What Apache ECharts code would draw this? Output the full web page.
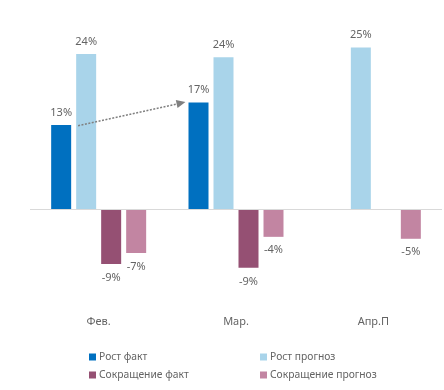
<!DOCTYPE html>
<html><head><meta charset="utf-8">
<script src="https://cdn.jsdelivr.net/npm/echarts@6/dist/echarts.min.js"></script>
<style>html,body{margin:0;padding:0;background:#fff}#c{width:444px;height:390px}</style>
</head><body><div id="c"></div>
<script>
const categories = ['Фев.', 'Мар.', 'Апр.П'];
const seriesNames = ['Рост факт', 'Рост прогноз', 'Сокращение факт', 'Сокращение прогноз'];
const growthFact = [13, 16.5, null];
const growthForecast = [24, 23.5, 25];
const cutFact = [-8.5, -9.1, null];
const cutForecast = [-6.8, -4.3, -4.6];
// arrow endpoints in (category-index space, percent)
const arrowStart = [0.35, 12.9];
const arrowEnd = [1.1, 16.4];

const colors = ['#0070C0', '#A9D4EA', '#955073', '#C285A2'];
const font = 'Noto Sans';
const labelColor = '#646464';

function fmt(p) {
  const v = p.value;
  if (v == null) return '';
  const r = Math.sign(v) * Math.round(Math.abs(v));
  return r + '%';
}
function barSeries(name, data, color) {
  return {
    name, type: 'bar', data: data.map(v => ({
      value: v,
      label: {
        show: v != null, position: v >= 0 ? 'top' : 'bottom',
        distance: v >= 0 ? 7 : 8
      }
    })),
    barWidth: 20, barGap: '25%',
    itemStyle: { color },
    label: { formatter: fmt, color: labelColor, fontSize: 11, fontFamily: font },
    emphasis: { disabled: true }
  };
}

const legendText = { color: labelColor, fontSize: 10.3, fontFamily: font, lineHeight: 12, padding: [0,0,0,-2] };
const chart = echarts.init(document.getElementById('c'), null, { renderer: 'canvas' });
chart.setOption({
  animation: false,
  color: colors,
  textStyle: { fontFamily: font },
  grid: { left: 30, right: 2, top: 41, bottom: 84 },
  legend: [
    { data: [seriesNames[0], seriesNames[2]], orient: 'vertical', left: 84, top: 346,
      itemWidth: 7, itemHeight: 7, itemGap: 6, icon: 'rect', textStyle: legendText },
    { data: [seriesNames[1], seriesNames[3]], orient: 'vertical', left: 255, top: 346,
      itemWidth: 7, itemHeight: 7, itemGap: 6, icon: 'rect', textStyle: legendText }
  ],
  xAxis: [
    { type: 'category', data: categories, axisLine: { show: false }, axisTick: { show: false },
      axisLabel: { color: labelColor, fontSize: 11, fontFamily: font, margin: 10 } },
    { type: 'value', min: 0, max: 3, show: false }
  ],
  yAxis: { type: 'value', min: -15, max: 26, show: false, splitLine: { show: false } },
  series: [
    barSeries(seriesNames[0], growthFact, colors[0]),
    barSeries(seriesNames[1], growthForecast, colors[1]),
    barSeries(seriesNames[2], cutFact, colors[2]),
    barSeries(seriesNames[3], cutForecast, colors[3]),
    {
      type: 'scatter', xAxisIndex: 1, data: [arrowStart], symbolSize: 0, silent: true,
      markLine: {
        silent: true, symbol: ['none', 'none'],
        label: { show: false },
        lineStyle: { color: '#d9d9d9', type: 'solid', width: 1 },
        data: [ { yAxis: 0 } ]
      }
    },
    {
      type: 'scatter', xAxisIndex: 1, data: [arrowEnd], symbolSize: 0, silent: true,
      markLine: {
        silent: true, symbol: ['none', 'triangle'], symbolSize: [8, 9],
        label: { show: false },
        lineStyle: { color: '#808080', type: [2, 1.5], width: 1.5 },
        data: [ [ { coord: arrowStart }, { coord: arrowEnd } ] ]
      }
    }
  ]
});
</script></body></html>
